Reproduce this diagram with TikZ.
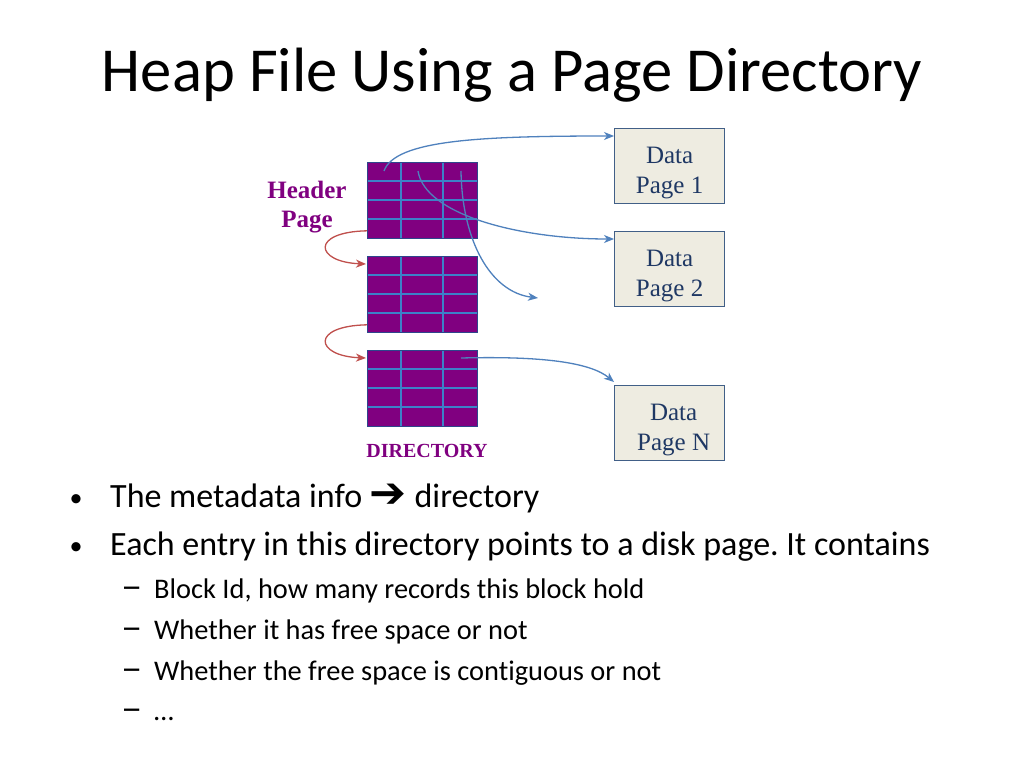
\documentclass[tikz,border=0pt]{standalone}
\usepackage{fontspec}
\setmainfont{Liberation Serif}
\newfontfamily\slidefont[Ligatures=NoCommon]{Carlito}
\newfontfamily\symfont{DejaVu Sans}
\usetikzlibrary{calc,arrows.meta}
\frenchspacing

\definecolor{dirpurple}{RGB}{128,0,128}
\definecolor{gridblue}{RGB}{60,130,200}
\definecolor{rimblue}{RGB}{45,70,140}
\definecolor{boxfill}{RGB}{238,236,225}
\definecolor{boxrim}{RGB}{65,95,135}
\definecolor{boxtext}{RGB}{31,56,100}
\definecolor{arrowblue}{RGB}{79,129,189}
\definecolor{arrowred}{RGB}{192,80,77}

\tikzset{
	dirpage/.style={draw=rimblue, fill=dirpurple, line width=0.8pt, inner sep=0pt, minimum width=110pt, minimum height=76pt},
	datapage/.style={draw=boxrim, fill=boxfill, line width=1.3pt, inner sep=0pt, minimum width=110pt, minimum height=75pt},
	datatext/.style={align=center, text=boxtext, inner sep=0pt, font=\fontsize{25}{30}\selectfont},
	purplelabel/.style={text=dirpurple, font=\bfseries\fontsize{25}{29}\selectfont, align=center},
	bluearrow/.style={draw=arrowblue, line width=1.3pt, -{Stealth[length=10pt,width=8pt,inset=3pt]}},
	redarrow/.style={draw=arrowred, line width=1.3pt, -{Stealth[length=10pt,width=8pt,inset=3pt]}},
	slidetext/.style={anchor=base west, inner sep=0pt, font=\slidefont\fontsize{34}{40}\selectfont},
	subtext/.style={anchor=base west, inner sep=0pt, font=\slidefont\fontsize{28.4}{34}\selectfont},
	dotmark/.style={anchor=base, inner sep=0pt, font=\slidefont\fontsize{26}{30}\selectfont},
}

\begin{document}
\begin{tikzpicture}[x=1pt, y=-1pt]
		%%%%% START %%%%%
		
		\fill[white] (0, 0) rectangle (1024, 768);
		\useasboundingbox (0, 0) rectangle (1024, 768);
		
		\node[anchor=base, inner sep=0pt, font=\slidefont\fontsize{62.6}{70}\selectfont] (title) at (512, 91) {Heap File Using a Page Directory};
		
		%%%%% directory pages %%%%%
		\node[dirpage, anchor=north west] (dir1) at (367, 162) {};
		\node[dirpage, anchor=north west] (dir2) at (367, 256) {};
		\node[dirpage, anchor=north west] (dir3) at (367, 350) {};
		\foreach \d in {dir1, dir2, dir3} {
			\foreach \y in {19, 38, 57}
				\draw[gridblue, line width=1.4pt] ($(\d.north west)+(0, \y)$) -- ($(\d.north east)+(0, \y)$);
			\foreach \x in {34, 76}
				\draw[gridblue, line width=1.4pt] ($(\d.north west)+(\x, 0)$) -- ($(\d.south west)+(\x, 0)$);
			\draw[rimblue, line width=0.8pt] (\d.north west) rectangle (\d.south east);
		}
		
		\node[purplelabel] (hdr) at (307, 207) {Header\\Page};
		\node[purplelabel, anchor=base, font=\bfseries\fontsize{20}{22}\selectfont] (dirlbl) at (427, 457) {DIRECTORY};
		
		%%%%% data pages %%%%%
		\node[datapage, anchor=north west] (dp1) at (614, 128) {};
		\node[datapage, anchor=north west] (dp2) at (614, 231) {};
		\node[datapage, anchor=north west] (dpn) at (614, 385) {};
		\node[datatext] (dp1t) at ([yshift=-7pt]dp1.center) {Data\\Page 1};
		\node[datatext] (dp2t) at ([yshift=-7pt]dp2.center) {Data\\Page 2};
		\node[datatext] (dpnt) at ([xshift=4pt, yshift=-7pt]dpn.center) {Data\\Page N};
		
		%%%%% pointers %%%%%
		\coordinate (s1) at ($(dir1.north west)+(17, 9)$);
		\coordinate (s2) at ($(dir1.north west)+(51, 9)$);
		\coordinate (s3) at ($(dir1.north west)+(94, 9)$);
		\coordinate (s4) at ($(dir3.north west)+(94, 8)$);
		\coordinate (e1) at ($(dp1.north west)+(0, 8)$);
		\coordinate (e2) at ($(dp2.north west)+(0, 8)$);
		\coordinate (e3) at (538, 298);
		\coordinate (e4) at ($(dpn.north west)+(0, -3)$);
		
		\draw[bluearrow] (s1) .. controls (395, 140) and (480, 136) .. (e1);
		\draw[bluearrow] (s2) .. controls (425, 215) and (520, 239) .. (e2);
		\draw[bluearrow] (s3) .. controls (462, 240) and (490, 292) .. (e3);
		\draw[bluearrow] (s4) .. controls (540, 356) and (590, 362) .. (e4);
		
		\coordinate (r1) at ($(dir1.south west)+(0, -8)$);
		\coordinate (r2) at ($(dir2.north west)+(-1, 8)$);
		\coordinate (r3) at ($(dir2.south west)+(0, -8)$);
		\coordinate (r4) at ($(dir3.north west)+(-1, 8)$);
		\draw[redarrow] (r1) .. controls (310, 232) and (315, 262) .. (r2);
		\draw[redarrow] (r3) .. controls (310, 326) and (315, 356) .. (r4);
		
		%%%%% bullets %%%%%
		\node[dotmark] (dot1) at (76, 506) {•};
		\node[slidetext] (b1) at (110, 507) {The metadata info \scalebox{1.3}[1.25]{\symfont\bfseries ➔} directory};
		\node[dotmark] (dot2) at (76, 554) {•};
		\node[slidetext] (b2) at (110, 555) {Each entry in this directory points to a disk page. It contains};
		
		\foreach \n/\y in {1/598, 2/639, 3/680, 4/720}
			\node[subtext] (d\n) at (121, \y) {\scalebox{1.5}[1.3]{–}};
		\node[subtext] (c1) at (154, 598) {Block Id, how many records this block hold};
		\node[subtext] (c2) at (154, 639) {Whether it has free space or not};
		\node[subtext] (c3) at (154, 680) {Whether the free space is contiguous or not};
		\node[subtext] (c4) at (154, 720) {…};
		
		%%%%% END %%%%%
\end{tikzpicture}
\end{document}
